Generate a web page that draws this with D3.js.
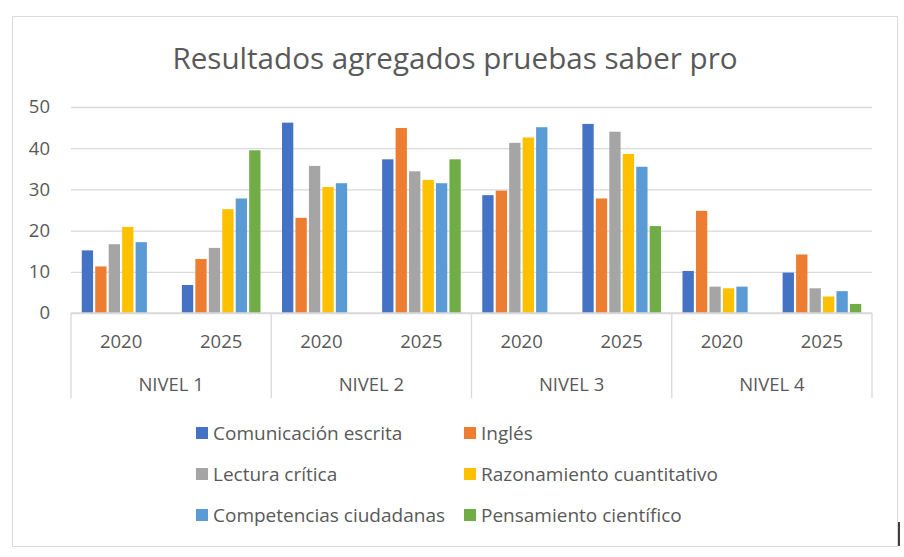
<!DOCTYPE html>
<html>
<head>
<meta charset="utf-8">
<script src="https://cdn.jsdelivr.net/npm/d3@7.9.0/dist/d3.min.js"></script>
<style>
  html, body { margin: 0; padding: 0; background: #fff; }
  svg { display: block; font-family: 'Open Sans', sans-serif; }
</style>
</head>
<body>
<div id="chart"></div>
<script>
// DATA
const levels = ['NIVEL 1', 'NIVEL 2', 'NIVEL 3', 'NIVEL 4'];
const years = ['2020', '2025'];
const series = [
  'Comunicación escrita',
  'Inglés',
  'Lectura crítica',
  'Razonamiento cuantitativo',
  'Competencias ciudadanas',
  'Pensamiento científico',
];
const colors = ['#4472C4', '#ED7D31', '#A5A5A5', '#FFC000', '#5B9BD5', '#70AD47'];
const yTicks = [0, 10, 20, 30, 40, 50];

// one array per series, order: N1-2020, N1-2025, N2-2020, N2-2025, ...
const comunicacion = [15.2, 6.8, 46.2, 37.3, 28.6, 45.9, 10.2, 9.8];
const ingles = [11.3, 13.1, 23.1, 44.9, 29.7, 27.8, 24.8, 14.2];
const lectura = [16.7, 15.8, 35.7, 34.4, 41.3, 44.0, 6.4, 6.0];
const razonamiento = [20.9, 25.2, 30.6, 32.3, 42.6, 38.6, 6.0, 4.0];
const competencias = [17.2, 27.8, 31.5, 31.5, 45.1, 35.5, 6.4, 5.3];
const pensamiento = [null, 39.5, null, 37.3, null, 21.1, null, 2.2];

const values = [comunicacion, ingles, lectura, razonamiento, competencias, pensamiento];

const width = 904;
const height = 557;
const textColor = '#595959';
const lineColor = '#d9d9d9';

const plot = { left: 71, right: 872, top: 107, bottom: 313 };

const svg = d3.select('#chart')
  .append('svg')
  .attr('width', width)
  .attr('height', height);

// chart border
svg.append('rect')
  .attr('x', 12.5)
  .attr('y', 16.5)
  .attr('width', 885)
  .attr('height', 530)
  .attr('fill', '#fff')
  .attr('stroke', lineColor);

// TITLE
svg.append('text')
  .attr('x', 455)
  .attr('y', 69)
  .attr('text-anchor', 'middle')
  .attr('fill', textColor)
  .style('font-size', '29.6px')
  .text('Resultados agregados pruebas saber pro');

// SCALES
const cats = levels.flatMap((l) => years.map((y) => l + '|' + y));

const x0 = d3.scaleBand()
  .domain(cats)
  .range([plot.left, plot.right]);

const x1 = d3.scaleBand()
  .domain(series)
  .range([0, x0.bandwidth()])
  .paddingInner(0.16)
  .paddingOuter(0.8);

const yScale = d3.scaleLinear()
  .domain([0, 50])
  .range([plot.bottom, plot.top]);

// GRIDLINES
svg.append('g')
  .attr('class', 'gridlines')
  .attr('transform', `translate(${plot.left},0)`)
  .call(d3.axisLeft(yScale).tickValues(yTicks).tickFormat('').tickSize(-(plot.right - plot.left)))
  .call((g) => g.select('.domain').remove())
  .call((g) => g.selectAll('line').attr('stroke', lineColor).attr('stroke-width', 1.3));

// Y LABELS
svg.append('g')
  .attr('transform', `translate(${plot.left},0)`)
  .call(d3.axisLeft(yScale).tickValues(yTicks).tickSize(0).tickPadding(21))
  .call((g) => g.select('.domain').remove())
  .call((g) => g.selectAll('text')
    .attr('fill', textColor)
    .style('font-family', "'Open Sans', sans-serif")
    .style('font-size', '18.5px'));

// BARS
const rows = [];
cats.forEach((c, i) => {
  series.forEach((s, j) => {
    if (values[j][i] != null) {
      rows.push({ cat: c, series: s, value: values[j][i], color: colors[j] });
    }
  });
});

svg.append('g')
  .attr('class', 'bars')
  .selectAll('rect')
  .data(rows)
  .join('rect')
  .attr('x', (d) => x0(d.cat) + x1(d.series))
  .attr('y', (d) => yScale(d.value))
  .attr('width', x1.bandwidth())
  .attr('height', (d) => yScale(0) - yScale(d.value))
  .attr('fill', (d) => d.color);

// CATEGORY AXIS
const axisG = svg.append('g').attr('class', 'cat-axis');

axisG.append('line')
  .attr('x1', plot.left)
  .attr('x2', plot.right)
  .attr('y1', plot.bottom)
  .attr('y2', plot.bottom)
  .attr('stroke', lineColor)
  .attr('stroke-width', 1.3);

const levelEdges = levels.map((l) => x0(l + '|' + years[0])).concat([plot.right]);

axisG.selectAll('line.sep')
  .data(levelEdges)
  .join('line')
  .attr('class', 'sep')
  .attr('x1', (d) => d)
  .attr('x2', (d) => d)
  .attr('y1', plot.bottom)
  .attr('y2', 398)
  .attr('stroke', lineColor)
  .attr('stroke-width', 1.3);

axisG.selectAll('text.year')
  .data(cats)
  .join('text')
  .attr('class', 'year')
  .attr('x', (d) => x0(d) + x0.bandwidth() / 2)
  .attr('y', 348)
  .attr('text-anchor', 'middle')
  .attr('fill', textColor)
  .style('font-size', '18.5px')
  .text((d) => d.split('|')[1]);

axisG.selectAll('text.level')
  .data(levels)
  .join('text')
  .attr('class', 'level')
  .attr('x', (d) => x0(d + '|' + years[0]) + x0.bandwidth())
  .attr('y', 391)
  .attr('text-anchor', 'middle')
  .attr('fill', textColor)
  .style('font-size', '18.5px')
  .text((d) => d);

// LEGEND
const legendX = [196, 464];
const legendY = [433, 474, 515];

const legend = svg.append('g')
  .attr('class', 'legend')
  .selectAll('g')
  .data(series)
  .join('g')
  .attr('transform', (d, i) => `translate(${legendX[i % 2]},${legendY[Math.floor(i / 2)]})`);

legend.append('rect')
  .attr('x', 0)
  .attr('y', -6)
  .attr('width', 12)
  .attr('height', 12)
  .attr('fill', (d, i) => colors[i]);

legend.append('text')
  .attr('x', 17)
  .attr('y', 7)
  .attr('fill', textColor)
  .style('font-size', '19px')
  .text((d) => d);

// cursor mark at the right edge of the screenshot
svg.append('line')
  .attr('x1', 899)
  .attr('x2', 899)
  .attr('y1', 522)
  .attr('y2', 546)
  .attr('stroke', '#000')
  .attr('stroke-width', 1.5);
</script>
</body>
</html>
